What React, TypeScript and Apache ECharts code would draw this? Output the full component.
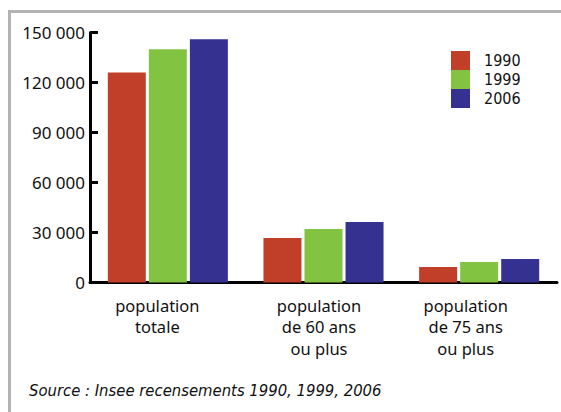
import React, { useEffect, useRef } from "react";
import * as echarts from "echarts";

const categories = ["population\ntotale", "population\nde 60 ans\nou plus", "population\nde 75 ans\nou plus"];
const years = ["1990", "1999", "2006"];
const values1990 = [126000, 26700, 9300];
const values1999 = [140000, 32100, 12300];
const values2006 = [146000, 36300, 14100];
const colors = ["#c13e28", "#82c342", "#353191"];
const yTicks = { min: 0, max: 150000, interval: 30000 };
const sourceText = "Source : Insee recensements 1990, 1999, 2006";

const FONT = "'Noto Sans', sans-serif";
const COND_FONT = "'DejaVu Sans Condensed', 'DejaVu Sans', sans-serif";
const labelShift = [21, 9, 27];

export default function App() {
  const ref = useRef<HTMLDivElement>(null);
  useEffect(() => {
    if (!ref.current) return;
    const chart = echarts.init(ref.current, undefined, { renderer: "svg" });
    const seriesData = [values1990, values1999, values2006];
    const rich: Record<string, any> = {};
    labelShift.forEach((s, i) => {
      rich["c" + i] = {
        fontFamily: FONT,
        fontSize: 16.5,
        lineHeight: 21.5,
        color: "#111",
        padding: [0, s, 0, 0],
      };
    });
    chart.setOption({
      animation: false,
      backgroundColor: "#ffffff",
      textStyle: { fontFamily: FONT },
      grid: { left: 90, right: 4, top: 32.5, bottom: 129.5, containLabel: false },
      legend: {
        orient: "vertical",
        left: 446,
        top: 46,
        itemWidth: 19,
        itemHeight: 19,
        itemGap: 0,
        icon: "rect",
        data: years,
        textStyle: { fontFamily: COND_FONT, fontSize: 16, lineHeight: 19, color: "#111", padding: [0, 0, 0, 9] },
      },
      xAxis: {
        type: "category",
        data: categories,
        axisLine: { lineStyle: { color: "#000", width: 3 } },
        axisTick: { inside: true, length: 4, lineStyle: { color: "#000", width: 3 } },
        axisLabel: {
          interval: 0,
          margin: 12,
          fontFamily: FONT,
          fontSize: 16.5,
          lineHeight: 21.5,
          color: "#111",
          align: "center",
          rich,
          formatter: (v: string, i: number) =>
            v
              .split("\n")
              .map((line) => `{c${i}|${line}}`)
              .join("\n"),
        },
      },
      yAxis: {
        type: "value",
        min: yTicks.min,
        max: yTicks.max,
        interval: yTicks.interval,
        splitLine: { show: false },
        axisLine: { show: true, lineStyle: { color: "#000", width: 3 } },
        axisTick: { show: true, inside: true, length: 8, lineStyle: { color: "#000", width: 3 } },
        axisLabel: {
          margin: 5,
          fontFamily: FONT,
          fontSize: 17,
          color: "#111",
          formatter: (v: number) => String(v).replace(/\B(?=(\d{3})+(?!\d))/g, " "),
        },
      },
      series: years.map((y, i) => ({
        name: y,
        type: "bar",
        data: seriesData[i],
        barWidth: 38,
        barGap: "8%",
        itemStyle: { color: colors[i] },
      })),
      graphic: [
        {
          type: "rect",
          shape: { x: 9.5, y: 11.5, width: 620, height: 460 },
          style: { fill: "none", stroke: "#b3b3b3", lineWidth: 3 },
          silent: true,
          z: -1,
        },
        {
          type: "text",
          left: 29,
          top: 382,
          style: {
            text: sourceText,
            fontFamily: COND_FONT,
            fontSize: 16.5,
            fontStyle: "italic",
            fill: "#111",
          },
        },
      ],
    });
    return () => chart.dispose();
  }, []);
  return <div ref={ref} style={{ position: "absolute", left: 0, top: 0, width: 561, height: 412 }} />;
}
